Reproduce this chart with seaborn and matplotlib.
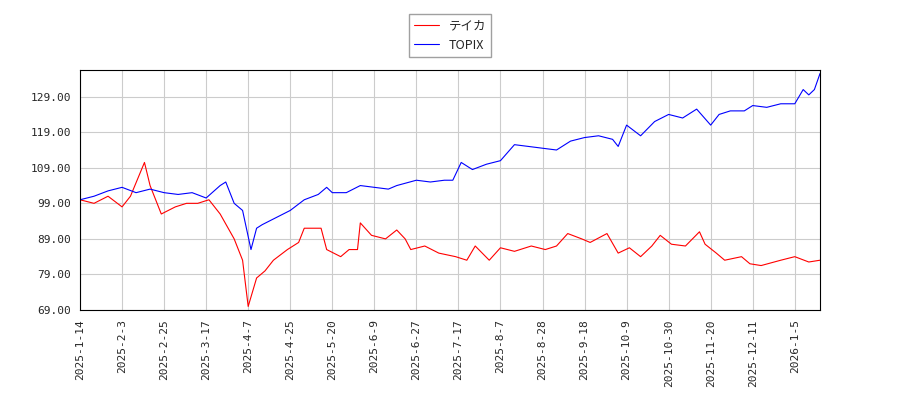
import numpy as np
import pandas as pd
import seaborn as sns
import matplotlib
matplotlib.use("Agg")
import matplotlib.pyplot as plt

# trading-day index -> value
topix_day = [0, 5, 10, 15, 20, 25, 30, 35, 40, 45, 50, 52, 55, 58, 61, 63, 65, 70, 75, 80, 85, 88, 90, 95,
             100, 105, 110, 113, 120, 125, 130, 133, 136, 140, 145, 150, 155, 160, 165, 170, 175, 180, 185,
             190, 192, 195, 200, 205, 210, 215, 220, 225, 228, 232, 237, 240, 245, 250, 255, 258, 260, 262, 264]
topix_val = [100, 101, 102.5, 103.5, 102, 103, 102, 101.5, 102, 100.5, 104, 105, 99, 97, 86, 92, 93, 95,
             97, 100, 101.5, 103.5, 102, 102, 104, 103.5, 103, 104, 105.5, 105, 105.5, 105.5, 110.5, 108.5,
             110, 111, 115.5, 115, 114.5, 114, 116.5, 117.5, 118, 117, 115, 121, 118, 122, 124, 123, 125.5,
             121, 124, 125, 125, 126.5, 126, 127, 127, 131, 129.5, 131, 135.5]

teika_day = [0, 5, 10, 15, 18, 23, 25, 29, 34, 38, 42, 46, 50, 55, 58, 60, 63, 66, 69, 74, 78, 80, 86, 88,
             93, 96, 99, 100, 104, 109, 113, 116, 118, 123, 128, 134, 138, 141, 146, 150, 155, 161, 166,
             170, 174, 179, 182, 188, 192, 196, 200, 204, 207, 211, 216, 221, 223, 227, 230, 236, 239,
             243, 250, 255, 260, 264]
teika_val = [100, 99, 101, 98, 101, 110.5, 104, 96, 98, 99, 99, 100, 96, 89, 83, 70, 78, 80, 83, 86, 88,
             92, 92, 86, 84, 86, 86, 93.5, 90, 89, 91.5, 89, 86, 87, 85, 84, 83, 87, 83, 86.5, 85.5, 87,
             86, 87, 90.5, 89, 88, 90.5, 85, 86.5, 84, 87, 90, 87.5, 87, 91, 87.5, 85, 83, 84, 82, 81.5,
             83, 84, 82.5, 83]

tick_labels = ["2025-1-14", "2025-2-3", "2025-2-25", "2025-3-17", "2025-4-7", "2025-4-25", "2025-5-20",
               "2025-6-9", "2025-6-27", "2025-7-17", "2025-8-7", "2025-8-28", "2025-9-18", "2025-10-9",
               "2025-10-30", "2025-11-20", "2025-12-11", "2026-1-5"]

sns.set_style("white")
plt.rcParams['font.family'] = ['Noto Sans CJK JP', 'DejaVu Sans']

fig = plt.figure(figsize=(9, 4), dpi=100)
ax = fig.add_axes([80/900, 90/400, 740/900, 240/400])

sns.lineplot(x=teika_day, y=teika_val, ax=ax, color="red", lw=0.8, label="テイカ")
sns.lineplot(x=topix_day, y=topix_val, ax=ax, color="blue", lw=0.8, label="TOPIX")

ax.set_xlim(0, 264)
ax.set_ylim(69, 136.5)
ax.set_xticks(np.arange(len(tick_labels)) * 15)
ax.set_xticklabels(tick_labels, rotation=90, family="DejaVu Sans Mono", fontsize=8)
yt = np.arange(69, 130, 10)
ax.set_yticks(yt)
ax.set_yticklabels(["%.2f" % v for v in yt], family="DejaVu Sans Mono", fontsize=8)
ax.grid(True, color="#cccccc", lw=0.8)
for s in ax.spines.values():
    s.set_color("black"); s.set_linewidth(0.8)
ax.tick_params(length=3, color="black")
ax.legend(loc="lower center", bbox_to_anchor=(0.5, 1.03), frameon=True, fancybox=False,
          edgecolor="#888888", fontsize=9)

fig.savefig("out.png")
